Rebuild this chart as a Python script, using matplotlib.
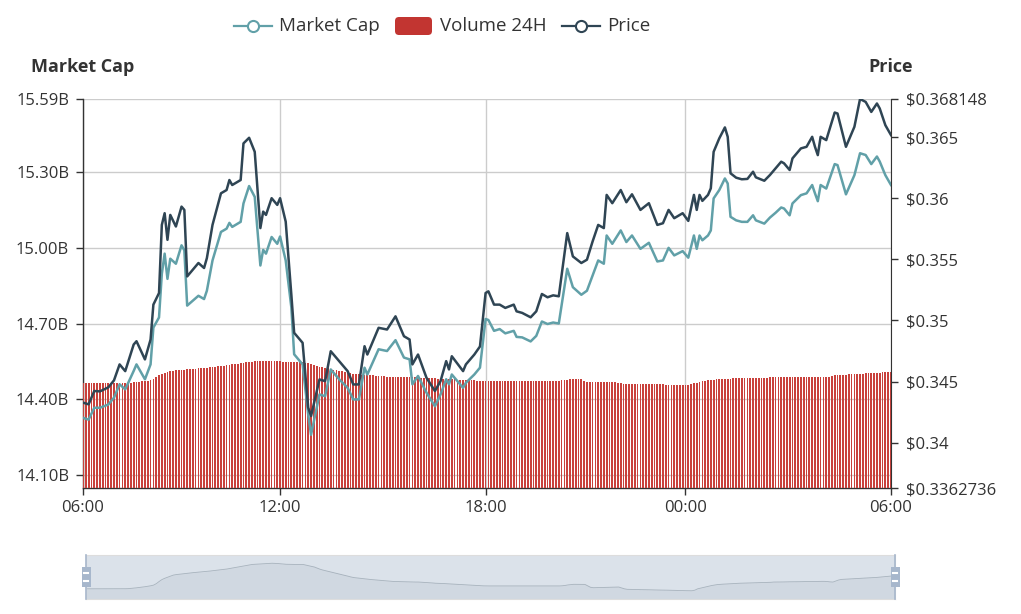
import matplotlib
matplotlib.use('Agg')
import matplotlib.pyplot as plt
from matplotlib.lines import Line2D
from matplotlib.patches import FancyBboxPatch, Rectangle

plt.rcParams['font.family'] = ['Open Sans', 'DejaVu Sans']

# 24h category axis, 5-minute slots (06:00 -> 06:00)
n_slots = 288
tick_slots = [0, 70, 143, 214, 287]
tick_labels = ['06:00', '12:00', '18:00', '00:00', '06:00']

# slots where the lines were read
slot = [0, 2, 4, 6, 9, 11, 13, 15, 18, 19,
        22, 24, 25, 27, 28, 29, 30, 31, 33, 35,
        36, 37, 41, 43, 44, 46, 49, 51, 52, 53,
        56, 57, 59, 61, 63, 64, 65, 67, 69, 70,
        72, 74, 75, 78, 80, 81, 84, 86, 88, 91,
        94, 96, 98, 100, 101, 105, 108, 111, 114, 116,
        117, 119, 122, 125, 127, 129, 130, 131, 135, 136,
        139, 141, 143, 144, 146, 148, 150, 153, 154, 156,
        159, 161, 163, 165, 167, 169, 172, 174, 177, 179,
        181, 183, 185, 186, 188, 191, 193, 195, 198, 201,
        204, 206, 208, 210, 213, 215, 217, 218, 219, 220,
        222, 223, 224, 226, 228, 229, 230, 232, 234, 236,
        238, 239, 242, 244, 246, 248, 249, 251, 252, 255,
        257, 259, 260, 261, 262, 264, 267, 268, 271, 274,
        276, 278, 280, 282, 283, 285, 287]

# price in USD
price = [0.34327, 0.34313, 0.34422, 0.34419, 0.34452, 0.34509, 0.34640, 0.34585, 0.34803, 0.34830,
         0.34681, 0.34844, 0.35130, 0.35225, 0.35783, 0.35879, 0.35661, 0.35865, 0.35770, 0.35933,
         0.35906, 0.35361, 0.35471, 0.35430, 0.35511, 0.35783, 0.36042, 0.36069, 0.36151, 0.36110,
         0.36151, 0.36451, 0.36497, 0.36382, 0.35757, 0.35892, 0.35865, 0.36002, 0.35947, 0.36002,
         0.35810, 0.35212, 0.34899, 0.34817, 0.34286, 0.34217, 0.34517, 0.34503, 0.34748, 0.34667,
         0.34585, 0.34476, 0.34476, 0.34789, 0.34721, 0.34940, 0.34926, 0.35034, 0.34871, 0.34844,
         0.34640, 0.34721, 0.34531, 0.34422, 0.34503, 0.34667, 0.34599, 0.34707, 0.34585, 0.34640,
         0.34721, 0.34787, 0.35225, 0.35239, 0.35130, 0.35130, 0.35103, 0.35130, 0.35075, 0.35062,
         0.35026, 0.35075, 0.35217, 0.35190, 0.35206, 0.35198, 0.35716, 0.35525, 0.35471, 0.35498,
         0.35647, 0.35783, 0.35757, 0.36029, 0.35961, 0.36069, 0.35969, 0.36034, 0.35906, 0.35961,
         0.35783, 0.35797, 0.35906, 0.35838, 0.35879, 0.35816, 0.36029, 0.35906, 0.36029, 0.35980,
         0.36029, 0.36083, 0.36382, 0.36492, 0.36582, 0.36505, 0.36206, 0.36170, 0.36157, 0.36160,
         0.36219, 0.36173, 0.36145, 0.36192, 0.36247, 0.36301, 0.36288, 0.36233, 0.36328, 0.36410,
         0.36423, 0.36505, 0.36423, 0.36355, 0.36505, 0.36478, 0.36704, 0.36696, 0.36423, 0.36587,
         0.368148, 0.36791, 0.36709, 0.36778, 0.36737, 0.36600, 0.36519]

# market cap in billions USD
market_cap = [14.326, 14.319, 14.366, 14.366, 14.379, 14.406, 14.459, 14.439, 14.512, 14.538,
              14.479, 14.538, 14.684, 14.724, 14.897, 14.977, 14.877, 14.957, 14.937, 15.010,
              14.990, 14.771, 14.810, 14.797, 14.830, 14.950, 15.063, 15.076, 15.099, 15.083,
              15.103, 15.176, 15.245, 15.202, 14.930, 14.992, 14.977, 15.043, 15.016, 15.045,
              14.950, 14.764, 14.578, 14.538, 14.339, 14.259, 14.419, 14.412, 14.518, 14.479,
              14.445, 14.399, 14.399, 14.525, 14.498, 14.598, 14.591, 14.634, 14.565, 14.558,
              14.459, 14.492, 14.426, 14.372, 14.419, 14.479, 14.459, 14.498, 14.445, 14.465,
              14.498, 14.525, 14.718, 14.714, 14.671, 14.678, 14.661, 14.671, 14.647, 14.645,
              14.629, 14.651, 14.708, 14.698, 14.704, 14.700, 14.917, 14.844, 14.814, 14.830,
              14.890, 14.950, 14.937, 15.049, 15.016, 15.069, 15.023, 15.049, 14.996, 15.020,
              14.946, 14.950, 15.000, 14.970, 14.987, 14.961, 15.049, 14.996, 15.049, 15.030,
              15.049, 15.069, 15.196, 15.229, 15.275, 15.255, 15.123, 15.109, 15.103, 15.103,
              15.129, 15.109, 15.096, 15.120, 15.139, 15.160, 15.156, 15.129, 15.176, 15.209,
              15.216, 15.249, 15.216, 15.185, 15.249, 15.235, 15.332, 15.328, 15.212, 15.288,
              15.375, 15.368, 15.332, 15.362, 15.342, 15.288, 15.249]

# 24h volume in billions USD, one value per slot
volume = [1.400, 1.400, 1.400, 1.400, 1.400, 1.400, 1.400, 1.400, 1.400, 1.400, 1.400, 1.400,
          1.400, 1.400, 1.401, 1.402, 1.405, 1.408, 1.412, 1.416, 1.420, 1.425, 1.430, 1.436,
          1.444, 1.462, 1.488, 1.510, 1.525, 1.538, 1.550, 1.562, 1.568, 1.572, 1.576, 1.580,
          1.584, 1.588, 1.591, 1.594, 1.597, 1.600, 1.602, 1.606, 1.610, 1.614, 1.618, 1.622,
          1.626, 1.630, 1.634, 1.640, 1.646, 1.652, 1.658, 1.664, 1.670, 1.676, 1.682, 1.688,
          1.690, 1.692, 1.694, 1.696, 1.698, 1.700, 1.702, 1.701, 1.699, 1.696, 1.692, 1.690,
          1.689, 1.688, 1.688, 1.688, 1.688, 1.688, 1.680, 1.672, 1.665, 1.658, 1.645, 1.632,
          1.622, 1.614, 1.607, 1.599, 1.591, 1.583, 1.575, 1.567, 1.559, 1.549, 1.540, 1.533,
          1.529, 1.525, 1.521, 1.517, 1.513, 1.510, 1.507, 1.504, 1.501, 1.498, 1.495, 1.491,
          1.488, 1.487, 1.486, 1.486, 1.485, 1.484, 1.483, 1.482, 1.481, 1.480, 1.480, 1.478,
          1.476, 1.473, 1.471, 1.469, 1.466, 1.465, 1.463, 1.462, 1.460, 1.459, 1.457, 1.455,
          1.452, 1.450, 1.448, 1.446, 1.444, 1.442, 1.440, 1.438, 1.436, 1.435, 1.434, 1.434,
          1.434, 1.434, 1.434, 1.434, 1.434, 1.434, 1.434, 1.434, 1.434, 1.434, 1.434, 1.434,
          1.434, 1.434, 1.434, 1.434, 1.434, 1.434, 1.434, 1.434, 1.434, 1.434, 1.434, 1.434,
          1.434, 1.436, 1.440, 1.446, 1.450, 1.453, 1.453, 1.453, 1.453, 1.452, 1.435, 1.418,
          1.413, 1.414, 1.415, 1.416, 1.417, 1.418, 1.419, 1.420, 1.421, 1.421, 1.410, 1.400,
          1.394, 1.393, 1.393, 1.392, 1.391, 1.390, 1.390, 1.389, 1.388, 1.387, 1.387, 1.386,
          1.385, 1.385, 1.384, 1.383, 1.382, 1.382, 1.381, 1.380, 1.379, 1.378, 1.378, 1.377,
          1.384, 1.400, 1.408, 1.416, 1.424, 1.432, 1.439, 1.445, 1.450, 1.453, 1.455, 1.457,
          1.459, 1.461, 1.463, 1.465, 1.466, 1.467, 1.468, 1.469, 1.470, 1.471, 1.472, 1.473,
          1.474, 1.475, 1.476, 1.477, 1.480, 1.480, 1.481, 1.481, 1.482, 1.482, 1.483, 1.483,
          1.484, 1.484, 1.485, 1.485, 1.486, 1.486, 1.487, 1.487, 1.488, 1.488, 1.488, 1.486,
          1.482, 1.480, 1.492, 1.504, 1.511, 1.513, 1.515, 1.517, 1.519, 1.521, 1.523, 1.525,
          1.527, 1.529, 1.531, 1.532, 1.533, 1.536, 1.539, 1.542, 1.545, 1.548, 1.551, 1.555]

mc_ticks = [14.10, 14.40, 14.70, 15.00, 15.30, 15.59]
price_ticks = [0.3362736, 0.34, 0.345, 0.35, 0.355, 0.36, 0.365, 0.368148]

C_MC = '#61a0a8'
C_VOL = '#c9413c'
C_PRICE = '#2f4554'
C_TXT = '#333333'
C_GRID = '#cccccc'

W, H = 1021, 614
fig = plt.figure(figsize=(W / 100, H / 100), dpi=100)
rect = [83 / W, 1 - 488 / H, 808 / W, 389 / H]

ax = fig.add_axes(rect)
ax.set_xlim(0, n_slots - 1)
ax.set_ylim(14.048, 15.59)
ax.set_yticks(mc_ticks, labels=['%.2fB' % v for v in mc_ticks])
ax.set_xticks(tick_slots, labels=tick_labels)
ax.grid(True, color=C_GRID, lw=1.0)
ax.set_axisbelow(True)
for s in ['top', 'right']:
    ax.spines[s].set_visible(False)
for s in ['left', 'bottom']:
    ax.spines[s].set_color(C_TXT)
    ax.spines[s].set_linewidth(1.0)
ax.tick_params(axis='y', direction='out', length=5, width=1, color=C_TXT,
               labelcolor=C_TXT, labelsize=12, pad=5)
ax.tick_params(axis='x', direction='out', length=5, width=1, color=C_TXT,
               labelcolor=C_TXT, labelsize=12, pad=4)

# volume bars (hidden axis)
ax_vol = ax.twinx()
ax_vol.set_ylim(0, 5.2)
ax_vol.bar(range(n_slots), volume, width=0.62, color=C_VOL, linewidth=0)
ax_vol.axis('off')

# market cap line (same scale as left axis)
ax_mc = ax.twinx()
ax_mc.set_ylim(ax.get_ylim())
ax_mc.plot(slot, market_cap, color=C_MC, lw=1.8, solid_joinstyle='round')
ax_mc.axis('off')

# price line on right axis
ax_p = ax.twinx()
ax_p.set_xlim(0, n_slots - 1)
ax_p.set_ylim(0.3362736, 0.368148)
ax_p.plot(slot, price, color=C_PRICE, lw=1.8, solid_joinstyle='round')
ax_p.set_yticks(price_ticks, labels=['$' + str(v) for v in price_ticks])
for s in ['top', 'left', 'bottom']:
    ax_p.spines[s].set_visible(False)
ax_p.spines['right'].set_color(C_TXT)
ax_p.tick_params(axis='y', direction='out', length=5, width=1, color=C_TXT,
                 labelcolor=C_TXT, labelsize=12, pad=6)

# data zoom slider
sx0, sx1, sy0, sy1 = 86, 895, 555, 599
ax_s = fig.add_axes([sx0 / W, 1 - sy1 / H, (sx1 - sx0) / W, (sy1 - sy0) / H])
vmin, vmax = min(volume), max(volume)
pad = (vmax - vmin) * 0.3
ax_s.set_xlim(0, n_slots - 1)
ax_s.set_ylim(vmin - pad, vmax + pad)
ax_s.fill_between(range(n_slots), volume, vmin - pad, color=C_PRICE, alpha=0.09, lw=0)
ax_s.plot(range(n_slots), volume, color=C_PRICE, alpha=0.3, lw=0.6)
ax_s.add_patch(Rectangle((0, 0), 1, 1, transform=ax_s.transAxes,
                         facecolor=(167 / 255, 183 / 255, 204 / 255, 0.4), lw=0))
ax_s.set_xticks([])
ax_s.set_yticks([])
for s in ax_s.spines.values():
    s.set_color('#dddddd')

# overlay in pixel coordinates for legend, names and slider handles
ov = fig.add_axes([0, 0, 1, 1], zorder=10)
ov.set_xlim(0, W)
ov.set_ylim(H, 0)
ov.axis('off')

ly = 26
ov.add_line(Line2D([234, 272], [ly, ly], color=C_MC, lw=1.6))
ov.plot([253], [ly], 'o', ms=8, mfc='white', mec=C_MC, mew=1.5)
ov.text(279, ly, 'Market Cap', fontsize=13.5, color=C_TXT, va='center', ha='left')
ov.add_patch(FancyBboxPatch((398, 20), 31, 12, boxstyle='round,pad=3,rounding_size=4',
                            facecolor='#c23531', edgecolor='none'))
ov.text(440, ly, 'Volume 24H', fontsize=13.5, color=C_TXT, va='center', ha='left')
ov.add_line(Line2D([562, 600], [ly, ly], color=C_PRICE, lw=1.6))
ov.plot([581], [ly], 'o', ms=8, mfc='white', mec=C_PRICE, mew=1.5)
ov.text(607, ly, 'Price', fontsize=13.5, color=C_TXT, va='center', ha='left')

ov.text(83, 67, 'Market Cap', fontsize=13, fontweight='bold', color=C_TXT,
        ha='center', va='center')
ov.text(891, 67, 'Price', fontsize=13, fontweight='bold', color=C_TXT,
        ha='center', va='center')

for hx in [sx0, sx1]:
    ov.add_line(Line2D([hx, hx], [sy0, sy1], color='#a7b7cc', lw=1.2))
    ov.add_patch(Rectangle((hx - 4.5, 567), 9, 20, facecolor='#a7b7cc', edgecolor='none'))
    for dy in [573, 581]:
        ov.add_line(Line2D([hx - 2, hx + 2], [dy, dy], color='white', lw=1.5))

fig.savefig('out.png', dpi=100)
